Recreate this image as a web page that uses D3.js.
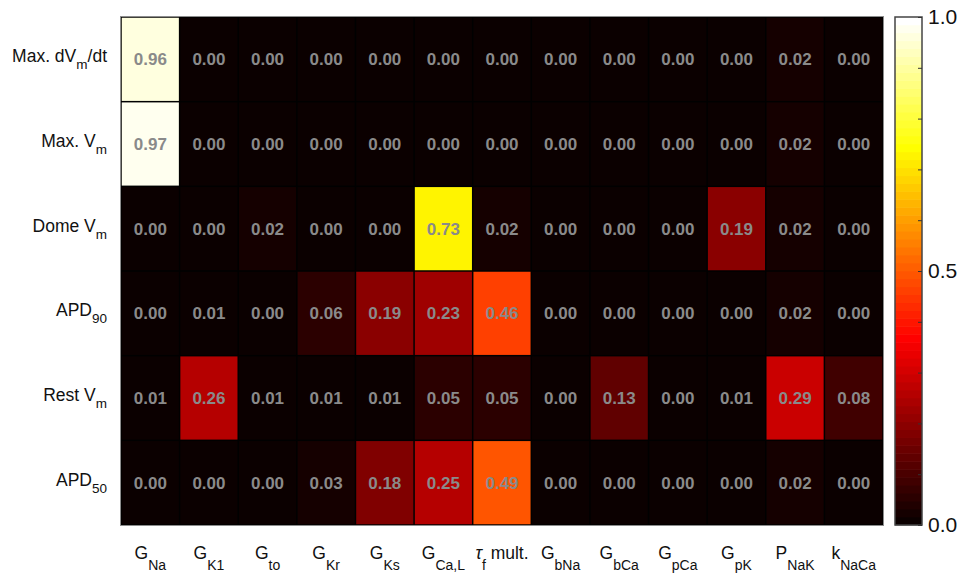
<!DOCTYPE html>
<html>
<head>
<meta charset="utf-8">
<script src="https://cdn.jsdelivr.net/npm/d3@7"></script>
<style>
  html, body { margin: 0; padding: 0; background: #fff; }
  svg { display: block; font-family: "Liberation Sans", Arial, Helvetica, sans-serif; }
</style>
</head>
<body>
<svg id="chart" width="961" height="578"></svg>
<script>
// Sensitivity of each output measure (rows) to each model parameter (columns).
// "_{...}" marks a subscript.
const outputs = ["Max. dV_{m}/dt", "Max. V_{m}", "Dome V_{m}", "APD_{90}", "Rest V_{m}", "APD_{50}"];
const params = ["G_{Na}", "G_{K1}", "G_{to}", "G_{Kr}", "G_{Ks}", "G_{Ca,L}", "τ_{f} mult.",
                "G_{bNa}", "G_{bCa}", "G_{pCa}", "G_{pK}", "P_{NaK}", "k_{NaCa}"];

const maxDVdt = [0.96, 0.00, 0.00, 0.00, 0.00, 0.00, 0.00, 0.00, 0.00, 0.00, 0.00, 0.02, 0.00];
const maxVm   = [0.97, 0.00, 0.00, 0.00, 0.00, 0.00, 0.00, 0.00, 0.00, 0.00, 0.00, 0.02, 0.00];
const domeVm  = [0.00, 0.00, 0.02, 0.00, 0.00, 0.73, 0.02, 0.00, 0.00, 0.00, 0.19, 0.02, 0.00];
const apd90   = [0.00, 0.01, 0.00, 0.06, 0.19, 0.23, 0.46, 0.00, 0.00, 0.00, 0.00, 0.02, 0.00];
const restVm  = [0.01, 0.26, 0.01, 0.01, 0.01, 0.05, 0.05, 0.00, 0.13, 0.00, 0.01, 0.29, 0.08];
const apd50   = [0.00, 0.00, 0.00, 0.03, 0.18, 0.25, 0.49, 0.00, 0.00, 0.00, 0.00, 0.02, 0.00];

const colorbarMajorTicks = [0.0, 0.5, 1.0];

const rows = [maxDVdt, maxVm, domeVm, apd90, restVm, apd50];

// "hot" colour map with 64 levels: black -> red -> yellow -> white
const nLevels = 64, nRamp = Math.floor(3 / 8 * nLevels);
const hotColors = d3.range(1, nLevels + 1).map(i => {
  const r = Math.min(1, i / nRamp);
  const g = Math.max(0, Math.min(1, (i - nRamp) / nRamp));
  const b = Math.max(0, Math.min(1, (i - 2 * nRamp) / (nLevels - 2 * nRamp)));
  return d3.rgb(r * 255, g * 255, b * 255).formatHex();
});
const color = d3.scaleQuantize().domain([0, 1]).range(hotColors);

const svg = d3.select("#chart");
const plot = { left: 121, top: 17, right: 883, bottom: 525 };

const x = d3.scaleBand().domain(params).range([plot.left, plot.right]).padding(0);
const y = d3.scaleBand().domain(outputs).range([plot.top, plot.bottom]).padding(0);

// writes a label with _{...} subscripts into a <text> element
function richText(sel, label, subSize, subDrop) {
  const parts = label.split(/(_\{[^}]*\})/).filter(s => s.length);
  let dropped = false;
  parts.forEach(p => {
    if (p.startsWith("_{")) {
      sel.append("tspan").attr("font-size", subSize).attr("dy", subDrop).text(p.slice(2, -1));
      dropped = true;
    } else {
      const t = sel.append("tspan").attr("dy", dropped ? -subDrop : 0);
      if (p.startsWith("τ")) {
        t.append("tspan").attr("font-style", "italic").text("τ");
        if (p.length > 1) sel.append("tspan").text(p.slice(1));
      } else {
        t.text(p);
      }
      dropped = false;
    }
  });
}

// black background under the grid
svg.append("rect")
  .attr("x", plot.left).attr("y", plot.top)
  .attr("width", plot.right - plot.left).attr("height", plot.bottom - plot.top)
  .attr("fill", "#000");

const cells = [];
rows.forEach((vals, r) => vals.forEach((v, c) => cells.push({ row: outputs[r], col: params[c], v })));

svg.append("g").selectAll("rect").data(cells).join("rect")
  .attr("x", d => x(d.col) + 0.75)
  .attr("y", d => y(d.row) + 0.75)
  .attr("width", x.bandwidth() - 1.5)
  .attr("height", y.bandwidth() - 1.5)
  .attr("fill", d => color(d.v));

svg.append("g").selectAll("text").data(cells).join("text")
  .attr("x", d => x(d.col) + x.bandwidth() / 2)
  .attr("y", d => y(d.row) + y.bandwidth() / 2)
  .attr("dy", "0.36em")
  .attr("text-anchor", "middle")
  .attr("font-size", 17)
  .attr("font-weight", "bold")
  .attr("fill", "#8a8a8a")
  .text(d => d.v.toFixed(2));

// axes frame
svg.append("rect")
  .attr("x", plot.left - 0.5).attr("y", plot.top - 0.5)
  .attr("width", plot.right - plot.left + 1).attr("height", plot.bottom - plot.top + 1)
  .attr("fill", "none").attr("stroke", "#8c8c8c").attr("stroke-width", 1);

// row labels
svg.append("g").selectAll("text").data(outputs).join("text")
  .attr("x", 107)
  .attr("y", d => y(d) + y.bandwidth() / 2 + 3)
  .attr("text-anchor", "end")
  .attr("font-size", 17.5)
  .attr("fill", "#111")
  .each(function (d) { richText(d3.select(this), d, 13.5, 7); });

// column labels
svg.append("g").selectAll("text").data(params).join("text")
  .attr("x", d => x(d) + x.bandwidth() / 2)
  .attr("y", 559)
  .attr("text-anchor", "middle")
  .attr("font-size", 17.5)
  .attr("fill", "#111")
  .each(function (d) { richText(d3.select(this), d, 14, 11); });

// colour bar
const cb = { left: 895, right: 922 };
const cbScale = d3.scaleLinear().domain([0, 1]).range([plot.bottom, plot.top]);
const cbBand = d3.scaleBand().domain(d3.range(nLevels)).range([plot.bottom, plot.top]).padding(0);

svg.append("g").selectAll("rect").data(hotColors).join("rect")
  .attr("x", cb.left)
  .attr("y", (d, i) => cbBand(i) - 0.3)
  .attr("width", cb.right - cb.left)
  .attr("height", cbBand.bandwidth() + 0.6)
  .attr("fill", d => d);

svg.append("rect")
  .attr("x", cb.left).attr("y", plot.top)
  .attr("width", cb.right - cb.left).attr("height", plot.bottom - plot.top)
  .attr("fill", "none").attr("stroke", "#444").attr("stroke-width", 1.5);

const cbAxis = d3.axisRight(cbScale)
  .tickValues(d3.range(0, 11).map(i => i / 10))
  .tickSize(-4)
  .tickPadding(6)
  .tickFormat(d => colorbarMajorTicks.some(t => Math.abs(t - d) < 1e-9) ? d3.format(".1f")(d) : "");

const cbG = svg.append("g").attr("transform", `translate(${cb.right},0)`).call(cbAxis);
cbG.select(".domain").remove();
cbG.selectAll(".tick line").attr("stroke", "#333").attr("stroke-width", 1);
cbG.selectAll(".tick text")
  .attr("font-family", "'Liberation Sans', Arial, sans-serif")
  .attr("font-size", 21)
  .attr("fill", "#111");
</script>
</body>
</html>
